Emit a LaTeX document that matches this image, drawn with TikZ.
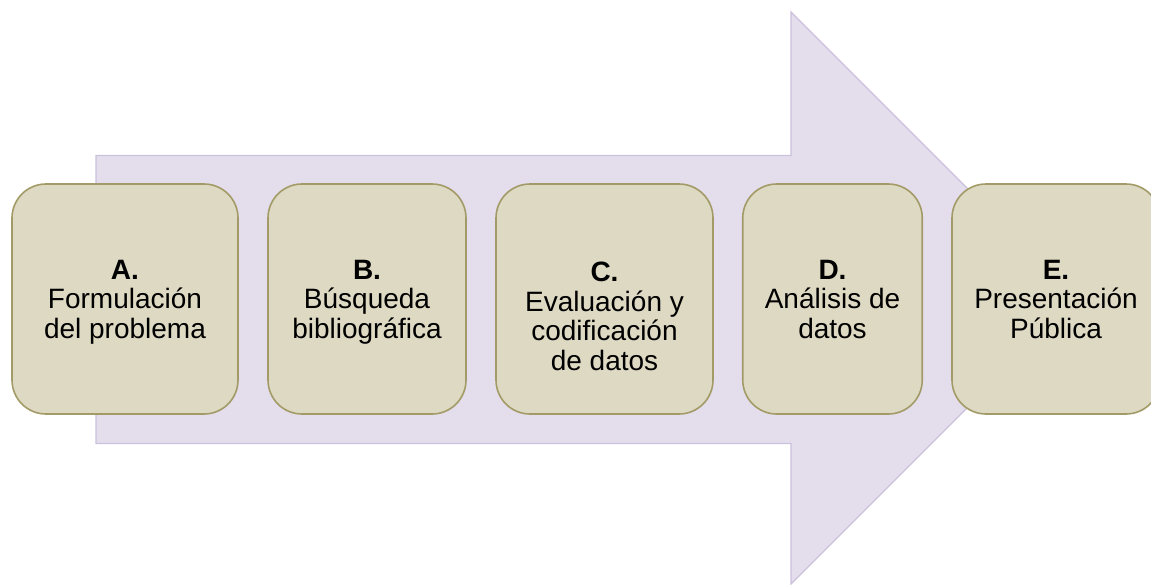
\documentclass[tikz,border=0pt]{standalone}
\usepackage{fontspec}
\setmainfont{Liberation Sans}
\definecolor{arrowfill}{HTML}{E4DEEC}
\definecolor{arrowline}{HTML}{CBC0DD}
\definecolor{boxfill}{HTML}{DDD9C3}
\definecolor{boxline}{HTML}{A39B67}
\tikzset{
  stepbox/.style={draw=boxline, fill=boxfill, line width=1.6pt, rounded corners=34pt, minimum height=230pt, inner sep=0pt},
  steptext/.style={anchor=north, align=center, inner sep=0pt, font=\fontsize{28}{29.5}\selectfont, text=black}
}
\begin{document}
\begin{tikzpicture}[x=1pt, y=-1pt]
\useasboundingbox (0,0) rectangle (1151,584);
\clip (0,0) rectangle (1151,584);
% big arrow
\draw[fill=arrowfill, draw=arrowline, line width=1.3pt, line join=miter]
  (96,155.5) -- (791,155.5) -- (791,12) -- (1077,298) -- (791,584) -- (791,443.5) -- (96,443.5) -- cycle;
% boxes
\node[stepbox, minimum width=226pt] (A) at (125,299) {};
\node[stepbox, minimum width=198pt] (B) at (367,299) {};
\node[stepbox, minimum width=217pt] (C) at (604.5,299) {};
\node[stepbox, minimum width=179.5pt] (D) at (832.5,299) {};
\node[stepbox, minimum width=208pt] (E) at (1056,299) {};
% texts
\node[steptext] (tA) at (125,260) {\textbf{A.}\\Formulación\\del problema};
\node[steptext] (tB) at (367,260) {\textbf{B.}\\Búsqueda\\bibliográfica};
\node[steptext] (tC) at (604.5,262) {\textbf{C.}\\Evaluación y\\codificación\\de datos};
\node[steptext] (tD) at (832.5,260) {\textbf{D.}\\Análisis de\\datos};
\node[steptext] (tE) at (1056,260) {\textbf{E.}\\Presentación\\Pública};
\end{tikzpicture}
\end{document}
